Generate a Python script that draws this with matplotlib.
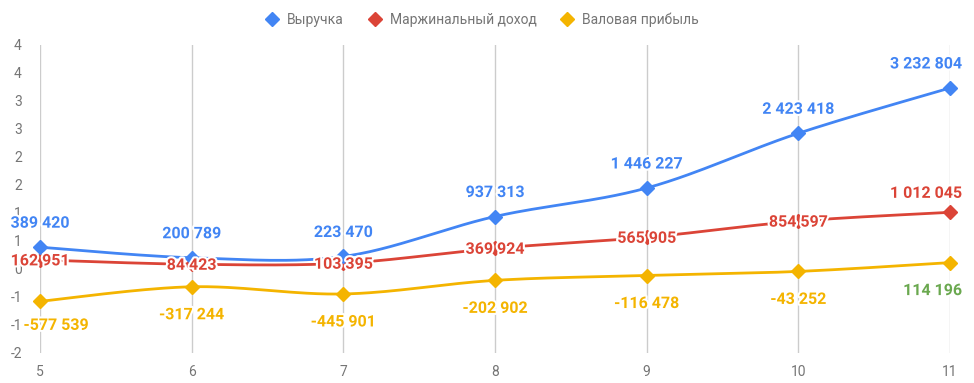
import numpy as np
import matplotlib
matplotlib.use("Agg")
import matplotlib.pyplot as plt
import matplotlib.patheffects as pe
from matplotlib.lines import Line2D

plt.rcParams['font.family'] = ['Roboto', 'DejaVu Sans']

months = [5, 6, 7, 8, 9, 10, 11]
revenue = [389420, 200789, 223470, 937313, 1446227, 2423418, 3232804]
margin = [162951, 84423, 103395, 369924, 565905, 854597, 1012045]
gross = [-577539, -317244, -445901, -202902, -116478, -43252, 114196]
series_names = ['Выручка', 'Маржинальный доход', 'Валовая прибыль']

ytick_vals = [-1500000, -1000000, -500000, 0, 500000, 1000000, 1500000,
              2000000, 2500000, 3000000, 3500000, 4000000]
ytick_labels = ['-2', '-1', '-1', '0', '1', '1', '2', '2', '3', '3', '4', '4']

BLUE = '#4285F4'
RED = '#DB4437'
YELLOW = '#F4B400'
GREEN = '#6AA84F'


def smooth(x, y, n=30):
    # catmull-rom style bezier through the points (like curveType: function)
    x = np.asarray(x, float)
    y = np.asarray(y, float)
    xs, ys = [], []
    for i in range(len(x) - 1):
        x0, y0 = (x[i - 1], y[i - 1]) if i > 0 else (x[i], y[i])
        x3, y3 = (x[i + 2], y[i + 2]) if i + 2 < len(x) else (x[i + 1], y[i + 1])
        cx1 = x[i] + (x[i + 1] - x0) / 6
        cy1 = y[i] + (y[i + 1] - y0) / 6
        cx2 = x[i + 1] - (x3 - x[i]) / 6
        cy2 = y[i + 1] - (y3 - y[i]) / 6
        t = np.linspace(0, 1, n)
        b0, b1, b2, b3 = (1 - t) ** 3, 3 * t * (1 - t) ** 2, 3 * t ** 2 * (1 - t), t ** 3
        xs.append(b0 * x[i] + b1 * cx1 + b2 * cx2 + b3 * x[i + 1])
        ys.append(b0 * y[i] + b1 * cy1 + b2 * cy2 + b3 * y[i + 1])
    return np.concatenate(xs), np.concatenate(ys)


def fmt(v):
    return f"{v:,}".replace(',', ' ')


fig = plt.figure(figsize=(9.74, 3.83), dpi=100)
ax = fig.add_axes([40 / 974, 30 / 383, 910 / 974, 308 / 383])
ax.set_xlim(5, 11)
ax.set_ylim(-1500000, 4000000)

for s in ax.spines.values():
    s.set_visible(False)
for m in months:
    ax.axvline(m, color='#cccccc', lw=1, zorder=0)

ax.set_xticks(months)
ax.set_xticklabels([str(m) for m in months])
ax.set_yticks(ytick_vals)
ax.set_yticklabels(ytick_labels)
ax.tick_params(axis='both', length=0, colors='#757575', labelsize=10)
ax.tick_params(axis='y', pad=13)
ax.tick_params(axis='x', pad=9)

halo = [pe.withStroke(linewidth=3, foreground='white')]

for vals, col in [(gross, YELLOW), (margin, RED), (revenue, BLUE)]:
    sx, sy = smooth(months, vals)
    ax.plot(sx, sy, color=col, lw=2, zorder=2, clip_on=False)
    ax.plot(months, vals, 'D', color=col, ms=7, zorder=3, clip_on=False)

lab = dict(fontsize=11.5, fontweight='bold', zorder=5, path_effects=halo,
           annotation_clip=False)
last = len(months) - 1
for i, m in enumerate(months):
    ha = 'right' if i == last else 'center'
    dx = 12 if i == last else 0
    ax.annotate(fmt(revenue[i]), (m, revenue[i]), xytext=(dx, 24),
                textcoords='offset pixels', ha=ha, va='center', color=BLUE, **lab)
    dy = 19 if i == last else -1
    ax.annotate(fmt(margin[i]), (m, margin[i]), xytext=(dx, dy),
                textcoords='offset pixels', ha=ha, va='center', color=RED, **lab)
    gcol = GREEN if gross[i] > 0 else YELLOW
    gdx, gdy = (16, -24) if i == 0 else (dx, -28)
    ax.annotate(fmt(gross[i]), (m, gross[i]), xytext=(gdx, gdy),
                textcoords='offset pixels', ha=ha, va='center', color=gcol, **lab)

handles = [Line2D([], [], marker='D', ls='none', color=c, ms=7)
           for c in (BLUE, RED, YELLOW)]
fig.legend(handles, series_names, loc='upper center', bbox_to_anchor=(0.495, 1.0),
           ncol=3, frameon=False, fontsize=10, labelcolor='#757575',
           handletextpad=0.6, columnspacing=1.7, handlelength=1.0)

fig.savefig('out.png', dpi=100)
